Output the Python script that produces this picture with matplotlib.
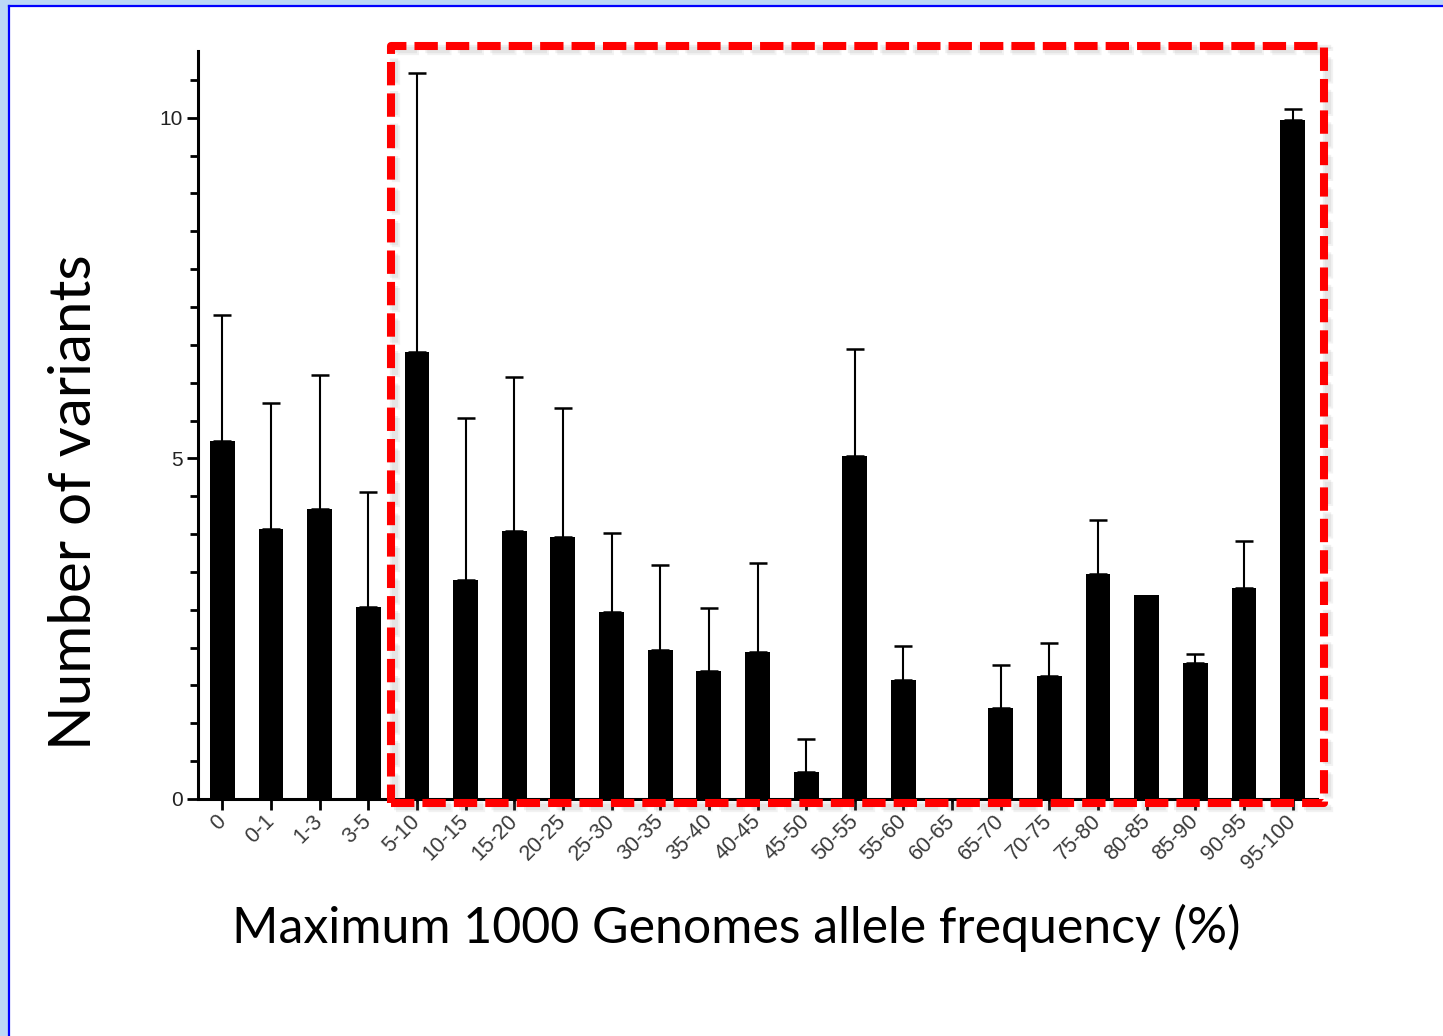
import numpy as np
import matplotlib
matplotlib.use("Agg")
import matplotlib.pyplot as plt
from matplotlib.patches import Rectangle
from matplotlib.lines import Line2D

categories = ["0", "0-1", "1-3", "3-5", "5-10", "10-15", "15-20", "20-25", "25-30",
              "30-35", "35-40", "40-45", "45-50", "50-55", "55-60", "60-65", "65-70",
              "70-75", "75-80", "80-85", "85-90", "90-95", "95-100"]
means = [5.25, 3.96, 4.25, 2.82, 6.56, 3.22, 3.93, 3.85, 2.75, 2.19, 1.88, 2.16,
         0.40, 5.04, 1.74, 0.0, 1.34, 1.81, 3.31, 3.00, 1.99, 3.09, 9.97]
errors = [1.85, 1.86, 1.97, 1.69, 4.09, 2.38, 2.27, 1.89, 1.15, 1.25, 0.93, 1.31,
          0.48, 1.56, 0.50, 0.0, 0.63, 0.48, 0.79, 0.0, 0.14, 0.69, 0.16]
yticks = [0, 5, 10]

W, H = 1443, 1036
fig = plt.figure(figsize=(W / 100, H / 100), dpi=100, facecolor="#bcd8f6")

# page background / frame
fig.add_artist(Rectangle((9 / W, 0), 1, 1 - 6 / H, transform=fig.transFigure,
                         facecolor="white", edgecolor="none", zorder=0))
fig.add_artist(Line2D([9 / W, 9 / W], [0, 1 - 6 / H], transform=fig.transFigure,
                      color="#0000ff", lw=1.6, zorder=1))
fig.add_artist(Line2D([9 / W, 1], [1 - 6 / H, 1 - 6 / H], transform=fig.transFigure,
                      color="#0000ff", lw=1.6, zorder=1))

left, right, bottom, top = 198, 1317, 799, 51
ax = fig.add_axes([left / W, 1 - bottom / H, (right - left) / W, (bottom - top) / H])
ax.set_facecolor("none")

x = np.arange(len(categories))
m = np.array(means)
e = np.array(errors)
ax.bar(x, m, width=0.51, color="black", zorder=2)
mask = e > 0
ax.errorbar(x[mask], m[mask], yerr=[np.zeros(mask.sum()), e[mask]], fmt="none",
            ecolor="black", elinewidth=1.5, capsize=6.5, capthick=1.8, zorder=1)

ax.set_xlim(-0.5, len(categories) - 0.5)
ax.set_ylim(0, 10.98)
for s in ["top", "right"]:
    ax.spines[s].set_visible(False)
for s in ["left", "bottom"]:
    ax.spines[s].set_linewidth(2.2)

ax.set_yticks(yticks)
ax.set_yticklabels([str(t) for t in yticks], fontsize=15, color="#222222",
                   family="Liberation Sans")
ax.set_yticks(np.arange(0, 10.9, 5 / 9), minor=True)
ax.tick_params(axis="y", which="major", length=8, width=2, pad=3)
ax.tick_params(axis="y", which="minor", length=6, width=2)
ax.set_xticks(x)
ax.set_xticklabels(categories, rotation=45, ha="right", va="center",
                   rotation_mode="anchor", fontsize=15.5, color="#3a3a3a",
                   family="Liberation Sans")
ax.tick_params(axis="x", length=8, width=2, pad=6)

fig.text(75 / W, 1 - 502 / H, "Number of variants", rotation=90, ha="center",
         va="center", fontsize=42, family="Lato", color="black")
fig.text(736 / W, 1 - 928 / H, "Maximum 1000 Genomes allele frequency (%)",
         ha="center", va="center", fontsize=36, family="Lato", color="black")

# red dashed highlight box with soft shadow
bx0, by0, bx1, by1 = 391, 46, 1324, 803
for off, a in [(5, 0.10), (3, 0.12)]:
    fig.add_artist(Rectangle(((bx0 + off) / W, 1 - (by1 + off) / H),
                             (bx1 - bx0) / W, (by1 - by0) / H,
                             transform=fig.transFigure, facecolor="none",
                             edgecolor="gray", alpha=a, lw=6,
                             linestyle=(0, (2.9, 1.0)), zorder=9))
fig.add_artist(Rectangle((bx0 / W, 1 - by1 / H), (bx1 - bx0) / W, (by1 - by0) / H,
                         transform=fig.transFigure, facecolor="none",
                         edgecolor="#ff0000", lw=5.8, linestyle=(0, (2.9, 1.0)),
                         joinstyle="round", zorder=10))

fig.savefig("out.png", dpi=100, facecolor=fig.get_facecolor())
